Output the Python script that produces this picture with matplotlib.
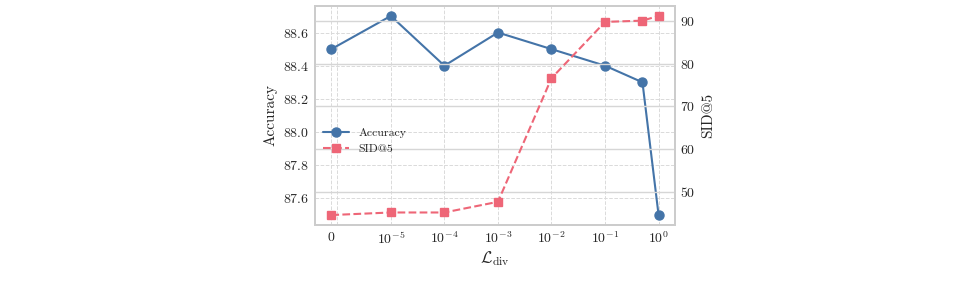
import matplotlib.pyplot as plt
import seaborn as sns
from matplotlib.ticker import FixedLocator

# lambda values for the diversity loss weight
lambdas = [0, 1e-5, 1e-4, 1e-3, 1e-2, 1e-1, 0.5, 1]
accuracy = [88.5, 88.7, 88.4, 88.6, 88.5, 88.4, 88.3, 87.5]
sid5 = [44.5, 45.1, 45.1, 47.6, 76.6, 89.8, 90.1, 91.2]

tick_vals = [0, 1e-5, 1e-4, 1e-3, 1e-2, 1e-1, 1]
tick_labels = ["$0$", r"$10^{-5}$", r"$10^{-4}$", r"$10^{-3}$",
               r"$10^{-2}$", r"$10^{-1}$", r"$10^{0}$"]

sns.set_style("whitegrid")
plt.rcParams["font.family"] = ["cmr10", "DejaVu Serif"]
plt.rcParams["mathtext.fontset"] = "cm"
plt.rcParams["axes.formatter.use_mathtext"] = True
plt.rcParams["axes.unicode_minus"] = False

blue = "#4474A8"
red = "#EE6677"

fig = plt.figure(figsize=(9.71, 2.99), dpi=100)
ax = fig.add_axes([0.3244, 0.2475, 0.3707, 0.7325])
ax2 = ax.twinx()

l1, = ax.plot(lambdas, accuracy, marker="o", color=blue, linewidth=1.5,
              markersize=6.5, label="Accuracy")
l2, = ax2.plot(lambdas, sid5, marker="s", color=red, linewidth=1.5,
               linestyle="--", markersize=6, label="SID@5")

ax.set_xscale("symlog", linthresh=1e-5, linscale=1)
ax.set_xticks(tick_vals)
ax.set_xticklabels(tick_labels)
ax.xaxis.set_minor_locator(FixedLocator([1e-6]))

# grids: dashed for left axis, solid for right axis
ax.grid(True, which="major", linestyle="--", color="#dadada", linewidth=0.7)
ax.grid(True, which="minor", axis="x", linestyle="--", color="#dadada", linewidth=0.7)
ax2.grid(True, axis="y", linestyle="-", color="#d6d6d6", linewidth=1.0)
ax2.grid(False, axis="x")

ax.tick_params(axis="both", which="both", length=0, labelsize=10, pad=4)
ax2.tick_params(axis="both", length=0, labelsize=10, pad=4)

ax.set_xlabel(r"$\mathcal{L}_{\mathrm{div}}$", fontsize=12, labelpad=2)
ax.set_ylabel("Accuracy", fontsize=11, labelpad=4)
ax2.set_ylabel("SID@5", fontsize=11, labelpad=4)

for a in (ax, ax2):
    for s in a.spines.values():
        s.set_color("#cccccc")
        s.set_linewidth(1.25)

ax2.legend([l1, l2], ["Accuracy", "SID@5"], loc="center left",
           bbox_to_anchor=(0.0, 0.385), frameon=False, fontsize=8.5,
           handlelength=2.2, borderaxespad=0.3)

fig.savefig("out.png", dpi=100)
